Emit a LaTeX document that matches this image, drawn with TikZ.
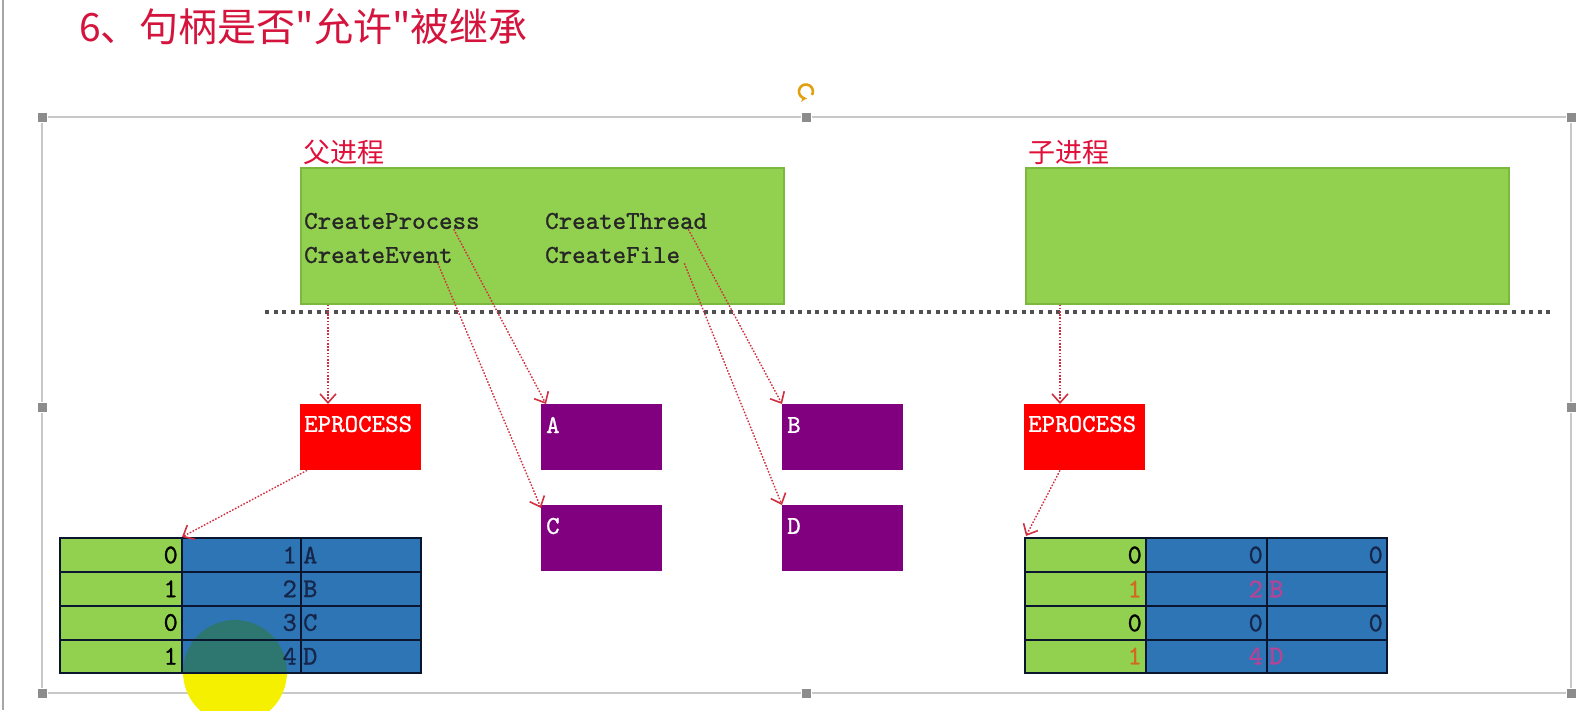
\documentclass[tikz,border=0pt]{standalone}
\usepackage{fontspec}
\newfontfamily\cjk{Noto Sans CJK SC}
\newfontfamily\apifont{lmmono10-regular.otf}[FakeBold=1]
\usetikzlibrary{arrows.meta,calc,positioning}
\definecolor{TitleRed}{HTML}{D4143C}
\definecolor{LabelRed}{HTML}{E0103A}
\definecolor{ProcGreen}{HTML}{92D050}
\definecolor{ProcEdge}{HTML}{7CB83E}
\definecolor{EpRed}{HTML}{FF0000}
\definecolor{ObjPurple}{HTML}{800080}
\definecolor{TblBlue}{HTML}{2E75B6}
\definecolor{TblLine}{HTML}{0A1530}
\definecolor{TblText}{HTML}{16264A}
\definecolor{ArrRed}{HTML}{D03040}
\definecolor{SepGray}{HTML}{505050}
\definecolor{FrameGray}{HTML}{C8C8C8}
\definecolor{HandleGray}{HTML}{8C8C8C}
\definecolor{RotGold}{HTML}{E0A010}
\definecolor{CopyPink}{HTML}{E8338A}
\definecolor{CopyOrange}{HTML}{D2691E}
\definecolor{Cursor}{HTML}{F4F000}
\definecolor{CursorTint}{HTML}{2F7A3A}
\tikzset{
  title/.style={font=\cjk\fontsize{39}{39}\selectfont,text=TitleRed,anchor=west,inner sep=0},
  plabel/.style={font=\cjk\fontsize{27}{27}\selectfont,text=LabelRed,anchor=west,inner sep=0},
  procbox/.style={fill=ProcGreen,draw=ProcEdge,line width=1.5pt,anchor=north west,minimum width=483pt,minimum height=136pt,inner sep=0},
  api/.style={font=\apifont\fontsize{25.7}{25.7}\selectfont,text=black!85,anchor=west,inner sep=0},
  eprocbox/.style={fill=EpRed,anchor=north west,minimum width=121pt,minimum height=66pt,inner sep=0},
  objbox/.style={fill=ObjPurple,anchor=north west,minimum width=121pt,minimum height=66pt,inner sep=0},
  boxtext/.style={font=\apifont\fontsize{25.7}{25.7}\selectfont,text=white,anchor=west,inner sep=0},
  cellnum/.style={font=\apifont\fontsize{27}{27}\selectfont,text=TblText,anchor=east,inner sep=0},
  cellabc/.style={font=\apifont\fontsize{27}{27}\selectfont,text=TblText,anchor=west,inner sep=0},
  link/.style={ArrRed,line width=1.4pt,dash pattern=on 1.6pt off 1.6pt,-{Straight Barb[length=9pt,width=16pt,line width=1.6pt]}},
  selhandle/.style={fill=HandleGray,draw=white,line width=0.8pt,minimum size=10pt,inner sep=0},
}

\begin{document}
\begin{tikzpicture}[x=1pt,y=-1pt,line cap=butt,line join=miter]

\useasboundingbox (0,0) rectangle (1583,710);
\fill[white] (0,0) rectangle (1583,710);

% Window edge and selection frame
\draw[gray!70,line width=2pt] (3,0) -- (3,710);
\draw[FrameGray,line width=1.5pt] (42,117) rectangle (1571,693);
\foreach \x/\y [count=\i] in {42/117,806/117,1571/117,42/407,1571/407,42/693,806/693,1571/693}{
  \node[selhandle] (h\i) at (\x,\y) {};
}
\draw[RotGold,line width=2.6pt,-{Stealth[length=5pt,width=7pt]}] (812,95) arc[start angle=-30,end angle=270,radius=7pt];

% Title
\node[title] (title) at (79,27) {6、句柄是否"允许"被继承};

% Processes
\node[plabel] (lblP) at (303,152) {父进程};
\node[plabel] (lblC) at (1028,152) {子进程};
\node[procbox] (procP) at (300,167) {};
\node[procbox] (procC) at (1025,167) {};

\node[api] (cp) at (304,221) {CreateProcess};
\node[api] (ce) at (304,255) {CreateEvent};
\node[api] (ct) at (545,221) {CreateThread};
\node[api] (cf) at (545,255) {CreateFile};

% User / kernel separator
\draw[SepGray,line width=4pt,dash pattern=on 4pt off 4.6pt] (265,312) -- (1552,312);

% Kernel objects
\node[eprocbox] (epP) at (300,404) {};
\node[eprocbox] (epC) at (1024,404) {};
\node[objbox] (objA) at (541,404) {};
\node[objbox] (objB) at (782,404) {};
\node[objbox] (objC) at (541,505) {};
\node[objbox] (objD) at (782,505) {};
\node[boxtext] (epPt) at ([xshift=4pt,yshift=-20pt]epP.north west) {EPROCESS};
\node[boxtext] (epCt) at ([xshift=4pt,yshift=-20pt]epC.north west) {EPROCESS};
\node[boxtext] (objAt) at ([xshift=5pt,yshift=-21pt]objA.north west) {A};
\node[boxtext] (objBt) at ([xshift=5pt,yshift=-21pt]objB.north west) {B};
\node[boxtext] (objCt) at ([xshift=5pt,yshift=-21pt]objC.north west) {C};
\node[boxtext] (objDt) at ([xshift=5pt,yshift=-21pt]objD.north west) {D};

% Cursor highlight
\fill[Cursor] (235,672) circle (52pt);

% Handle table of the parent
\fill[ProcGreen] (60,538) rectangle (182,673);
\fill[TblBlue] (182,538) rectangle (421,673);
\begin{scope}
  \clip (60,538) rectangle (421,673);
  \fill[CursorTint,opacity=0.55] (235,672) circle (52pt);
\end{scope}
\draw[TblLine,line width=2pt] (60,538) rectangle (421,673);
\foreach \y in {572,606,640}{
  \draw[TblLine,line width=2pt] (60,\y) -- (421,\y);
}
\foreach \x in {182,301}{
  \draw[TblLine,line width=2pt] (\x,538) -- (\x,673);
}
\foreach \g/\h/\l [count=\r from 0] in {0/1/A,1/2/B,0/3/C,1/4/D}{
  \node[cellnum,text=black] (ltg\r) at (178,{555+\r*33.75}) {\g};
  \node[cellnum] (lth\r) at (297,{555+\r*33.75}) {\h};
  \node[cellabc] (ltl\r) at (303,{555+\r*33.75}) {\l};
}
\coordinate (tblP) at (182,537);

% Handle table of the child
\fill[ProcGreen] (1025,538) rectangle (1146,673);
\fill[TblBlue] (1146,538) rectangle (1387,673);
\draw[TblLine,line width=2pt] (1025,538) rectangle (1387,673);
\foreach \y in {572,606,640}{
  \draw[TblLine,line width=2pt] (1025,\y) -- (1387,\y);
}
\foreach \x in {1146,1267}{
  \draw[TblLine,line width=2pt] (\x,538) -- (\x,673);
}
\node[cellnum,text=black] (rtg0) at (1142,555) {0};
\node[cellnum] (rth0) at (1263,555) {0};
\node[cellnum] (rtl0) at (1383,555) {0};
\node[cellnum,text=CopyOrange] (rtg1) at (1142,589) {1};
\node[cellnum,text=CopyPink,opacity=0.7] (rth1) at (1263,589) {2};
\node[cellabc,text=CopyPink,opacity=0.7] (rtl1) at (1269,589) {B};
\node[cellnum,text=black] (rtg2) at (1142,623) {0};
\node[cellnum] (rth2) at (1263,623) {0};
\node[cellnum] (rtl2) at (1383,623) {0};
\node[cellnum,text=CopyOrange] (rtg3) at (1142,656) {1};
\node[cellnum,text=CopyPink,opacity=0.7] (rth3) at (1263,656) {4};
\node[cellabc,text=CopyPink,opacity=0.7] (rtl3) at (1269,656) {D};
\coordinate (tblC) at (1026,536);

% Links
\draw[link] ([xshift=28pt]procP.south west) -- ([xshift=28pt]epP.north west);
\draw[link] ([xshift=35pt]procC.south west) -- ([xshift=36pt]epC.north west);
\draw[link] ([xshift=-26pt]cp.south east) -- ([xshift=5pt]objA.north west);
\draw[link] ([xshift=-15pt]ce.south east) -- ([yshift=-3pt]objC.north west);
\draw[link] ([xshift=-19pt]ct.south east) -- (objB.north west);
\draw[link] ([xshift=4pt]cf.south east) -- (objD.north west);
\draw[link] ([xshift=7pt]epP.south west) -- (tblP);
\draw[link] ([xshift=36pt]epC.south west) -- (tblC);

\end{tikzpicture}
\end{document}
